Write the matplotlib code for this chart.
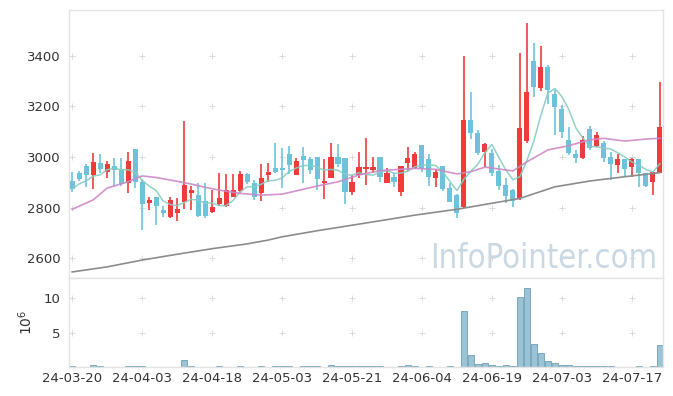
import numpy as np
import pandas as pd
import matplotlib
matplotlib.use('Agg')
import matplotlib.pyplot as plt

# trading days (KRX), holidays removed
holidays = ['2024-04-10', '2024-05-01', '2024-05-06', '2024-05-15', '2024-06-06']
dates = [d for d in pd.bdate_range('2024-03-20', '2024-07-23') if d.strftime('%Y-%m-%d') not in holidays]

opens = [2906, 2938, 2964, 2929, 2977, 2941, 2964, 2951, 2896, 3030,
         2902, 2819, 2841, 2790, 2761, 2779, 2823, 2859, 2849, 2826,
         2783, 2814, 2806, 2843, 2866, 2933, 2896, 2859, 2930, 2955,
         2955, 3012, 2930, 3004, 2991, 2999, 2898, 2918, 2999, 2995,
         2862, 2929, 2952, 2948, 2999, 2898, 2919, 2862, 2977, 2955,
         3047, 2992, 2916, 2964, 2877, 2850, 2803, 3146, 3094, 3021,
         3014, 2945, 2889, 2869, 2836, 3063, 3380, 3272, 3357, 3249,
         3189, 3067, 3012, 2997, 3111, 3043, 3054, 3001, 2968, 2991,
         2962, 2991, 2935, 2902, 2938]
highs = [2940, 2946, 2972, 3017, 3012, 2985, 2996, 2996, 3021, 3032,
         2912, 2843, 2843, 2806, 2843, 2838, 3144, 2885, 2897, 2898,
         2869, 2938, 2933, 2933, 2943, 2935, 2909, 2971, 2975, 3054,
         3034, 3043, 2996, 3038, 3001, 3001, 2991, 3054, 3051, 2997,
         2927, 3021, 3074, 3001, 3001, 2955, 2935, 2966, 3038, 3020,
         3049, 3010, 2952, 2966, 2896, 2852, 3400, 3256, 3107, 3054,
         3030, 2968, 2916, 2872, 3413, 3529, 3450, 3441, 3364, 3265,
         3206, 3118, 3028, 3083, 3123, 3099, 3065, 3021, 3012, 2993,
         2995, 2993, 2937, 2939, 3298]
lows = [2861, 2906, 2881, 2874, 2938, 2917, 2881, 2885, 2859, 2877,
        2711, 2790, 2731, 2762, 2758, 2748, 2793, 2790, 2762, 2760,
        2780, 2808, 2804, 2840, 2859, 2893, 2830, 2827, 2902, 2935,
        2876, 2933, 2928, 2898, 2933, 2869, 2832, 2916, 2962, 2812,
        2849, 2916, 2889, 2935, 2902, 2896, 2880, 2846, 2946, 2952,
        2942, 2885, 2882, 2864, 2821, 2760, 2797, 3070, 3008, 2962,
        2925, 2869, 2819, 2803, 2830, 3054, 3239, 3261, 3209, 3087,
        3076, 3008, 2975, 2991, 3026, 3040, 2980, 2909, 2935, 2922,
        2922, 2882, 2883, 2850, 2936]
closes = [2873, 2914, 2929, 2980, 2952, 2972, 2948, 2893, 2984, 2902,
          2815, 2830, 2806, 2779, 2830, 2794, 2889, 2869, 2766, 2766,
          2801, 2836, 2869, 2869, 2933, 2902, 2840, 2916, 2940, 2940,
          2948, 2968, 2984, 2988, 2948, 2913, 2906, 2999, 2972, 2862,
          2901, 2959, 2959, 2959, 2922, 2935, 2902, 2964, 2997, 3012,
          2958, 2920, 2940, 2874, 2823, 2779, 3146, 3096, 3017, 3051,
          2938, 2886, 2847, 2826, 3114, 3256, 3278, 3357, 3265, 3199,
          3098, 3017, 2995, 3067, 3034, 3087, 2997, 2972, 2991, 2952,
          2991, 2935, 2885, 2939, 3118]
# volume in millions
volume = [0.2, 0.05, 0.05, 0.3, 0.2, 0.05, 0.05, 0.05, 0.15, 0.15,
          0.15, 0.05, 0.05, 0.05, 0.05, 0.05, 1.0, 0.15, 0.05, 0.05,
          0.05, 0.15, 0.05, 0.05, 0.15, 0.05, 0.05, 0.15, 0.05, 0.15,
          0.15, 0.15, 0.05, 0.15, 0.15, 0.15, 0.05, 0.3, 0.15, 0.15,
          0.15, 0.15, 0.15, 0.15, 0.15, 0.05, 0.05, 0.15, 0.3, 0.15,
          0.05, 0.15, 0.05, 0.05, 0.15, 0.05, 8.1, 1.7, 0.45, 0.6,
          0.35, 0.2, 0.3, 0.2, 10.1, 11.5, 3.3, 2.0, 0.9, 0.6,
          0.3, 0.3, 0.2, 0.2, 0.2, 0.2, 0.2, 0.2, 0.05, 0.05,
          0.05, 0.15, 0.05, 0.15, 3.2]

# moving averages (need history before the window)
ma20_idx = [0, 3, 5, 8, 10, 12, 14, 17, 19, 21, 24, 27, 30, 33, 35, 38, 41, 44,
            49, 52, 55, 57, 59, 63, 65, 68, 71, 74, 76, 79, 82, 84]
ma20_val = [2793, 2830, 2877, 2902, 2925, 2919, 2909, 2893, 2880, 2869, 2856, 2849,
            2853, 2872, 2885, 2902, 2929, 2946, 2955, 2951, 2933, 2942, 2960, 2945,
            2981, 3028, 3045, 3068, 3074, 3063, 3071, 3074]
ma60_idx = [0, 5, 10, 15, 20, 25, 28, 30, 35, 40, 45, 49, 55, 60, 64, 69, 74, 79, 84]
ma60_val = [2545, 2565, 2592, 2615, 2637, 2656, 2671, 2684, 2708, 2730, 2752, 2770,
            2793, 2817, 2836, 2882, 2905, 2922, 2938]

UP = '#ef3b3b'
DOWN = '#6ec3db'
GRID = '#dadada'
SPINE = '#e3e3e3'

df = pd.DataFrame({'open': opens, 'high': highs, 'low': lows, 'close': closes, 'vol': volume})
df['ma5'] = df['close'].rolling(5, min_periods=1).mean()
x = np.arange(len(df))
colors = np.where(df['close'] >= df['open'], UP, DOWN)

fig = plt.figure(figsize=(6.73, 3.96), dpi=100)
ax = fig.add_axes([69/673, 1-278/396, 594/673, 268/396])
axv = fig.add_axes([69/673, 1-367/396, 594/673, 89/396], sharex=ax)

# candles
ax.vlines(x, df['low'], df['high'], color=colors, lw=1.2, zorder=2)
body = np.maximum((df['close'] - df['open']).abs(), 3)
ax.bar(x, body, bottom=np.minimum(df['open'], df['close']), width=0.72, color=colors, zorder=3)

ax.plot(x, df['ma5'], color='#86ccc3', lw=1.1, alpha=0.9, zorder=4)
ax.plot(ma20_idx, ma20_val, color='#cc88c6', lw=1.2, alpha=0.9, zorder=4)
ax.plot(ma60_idx, ma60_val, color='#8c8c8c', lw=1.2, zorder=4)

xticks = np.arange(0, len(df), 10)
yticks = np.arange(2600, 3401, 200)
gx, gy = np.meshgrid(xticks, yticks)
ax.scatter(gx.ravel(), gy.ravel(), marker='+', s=25, lw=0.7, color=GRID, zorder=0)

ax.set_xlim(-0.45, len(df) - 0.55)
ax.set_ylim(2521, 3582)
ax.set_yticks(yticks)
ax.tick_params(axis='x', labelbottom=False, length=0)
ax.tick_params(axis='y', length=0, pad=6, labelsize=9.5, labelcolor='#333333')

ax.text(0.99, 0.037, 'InfoPointer.com', transform=ax.transAxes, ha='right', va='baseline',
        fontsize=23.5, fontstretch='condensed', color='#c9d8e3',
        family=['DejaVu Sans'], zorder=1)

# volume
axv.bar(x, df['vol'], width=0.95, color='#9cc3d5', edgecolor='#6e9fb6', lw=0.6, zorder=2)
vticks = [5, 10]
gx, gy = np.meshgrid(xticks, vticks)
axv.scatter(gx.ravel(), gy.ravel(), marker='+', s=25, lw=0.7, color=GRID, zorder=0)
axv.set_ylim(0, 12.9)
axv.set_yticks(vticks)
axv.set_xticks(xticks)
axv.set_xticklabels([dates[i].strftime('%y-%m-%d') for i in xticks])
axv.tick_params(length=0, labelsize=9.5, labelcolor='#333333')
axv.tick_params(axis='y', pad=6)
axv.set_ylabel(r'$10^{6}$', fontsize=10, color='#333333', labelpad=6)

for a in (ax, axv):
    for s in a.spines.values():
        s.set_color(SPINE)
        s.set_linewidth(1)

fig.savefig('out.png', dpi=100)
